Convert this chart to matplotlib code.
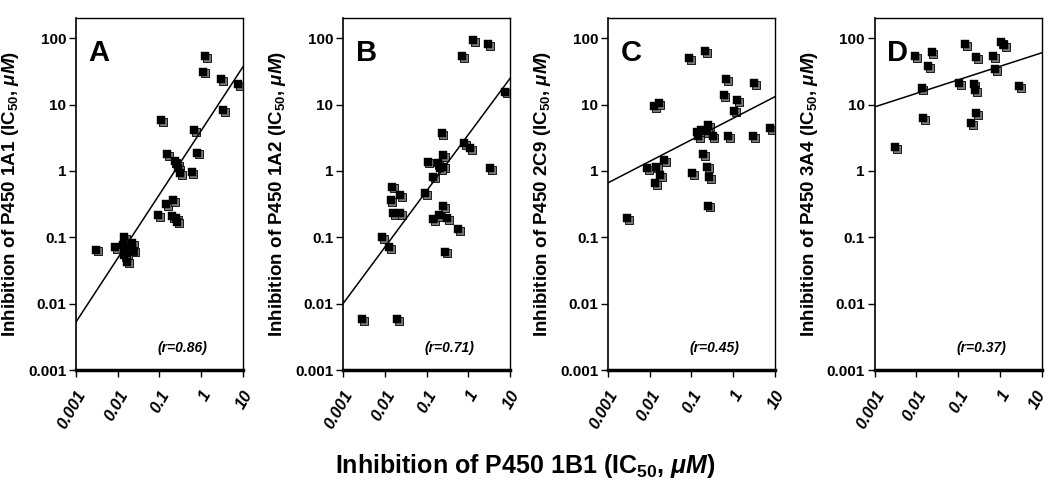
import numpy as np
import matplotlib
matplotlib.use("Agg")
import matplotlib.pyplot as plt
import matplotlib.transforms as mtransforms

plt.rcParams['font.family'] = ['Liberation Sans', 'DejaVu Sans']
plt.rcParams['mathtext.fontset'] = 'custom'
plt.rcParams['mathtext.rm'] = 'Liberation Sans:bold'
plt.rcParams['mathtext.it'] = 'Liberation Sans:bold:italic'
plt.rcParams['mathtext.bf'] = 'Liberation Sans:bold'

# IC50 values (uM), x = P450 1B1
a_x = [0.003, 0.0087, 0.0139, 0.013, 0.0152, 0.0221, 0.0229, 0.0161, 0.0167, 0.0139, 0.0209,
       0.092, 0.144, 0.216, 0.197, 0.245, 0.27, 0.107, 0.15, 0.23, 0.26, 0.28, 0.313, 0.587,
       0.68, 0.79, 1.12, 1.26, 3.0, 3.29, 7.57]
a_y = [0.065, 0.072, 0.1, 0.077, 0.068, 0.081, 0.063, 0.057, 0.043, 0.054, 0.066,
       0.217, 0.318, 0.366, 0.21, 0.193, 0.172, 5.87, 1.8, 1.42, 1.26, 1.1, 0.92, 0.955,
       4.15, 1.89, 31.4, 53, 24.4, 8.3, 20.3]

b_x = [0.0029, 0.0198, 0.0085, 0.0129, 0.0149, 0.0234, 0.0138, 0.0155, 0.0234, 0.091,
       0.106, 0.145, 0.185, 0.231, 0.254, 0.254, 0.21, 0.145, 0.2, 0.254, 0.306, 0.279,
       0.566, 0.778, 1.13, 0.708, 1.29, 2.98, 3.27, 7.56]
b_y = [0.0058, 0.0058, 0.1, 0.072, 0.58, 0.435, 0.366, 0.23, 0.23, 0.46,
       1.38, 0.82, 1.3, 3.7, 1.74, 1.16, 1.1, 0.187, 0.217, 0.297, 0.193, 0.061,
       0.132, 2.61, 2.2, 53, 94, 82, 1.1, 15.7]

c_x = [0.00294, 0.0085, 0.0128, 0.0163, 0.0143, 0.0179, 0.0137, 0.0224, 0.087, 0.212,
       0.105, 0.138, 0.143, 0.17, 0.256, 0.32, 0.194, 0.242, 0.264, 0.25, 0.23,
       0.59, 0.67, 0.77, 1.07, 1.24, 2.98, 3.16, 7.56]
c_y = [0.193, 1.1, 9.55, 10.5, 1.16, 0.87, 0.65, 1.47, 50, 63,
       0.92, 3.92, 3.3, 4.1, 4.94, 3.37, 1.8, 1.16, 0.8, 0.3, 4.0,
       13.7, 24.4, 3.37, 8.1, 11.8, 3.37, 21, 4.45]

d_x = [0.00315, 0.0092, 0.0133, 0.0146, 0.0193, 0.0232, 0.106, 0.147, 0.234, 0.25,
       0.202, 0.267, 0.267, 0.684, 0.78, 1.09, 1.24, 2.95]
d_y = [2.27, 53, 17.6, 6.2, 37.4, 61.5, 21, 82, 20.5, 16.3,
       5.23, 7.4, 51.7, 53, 34.1, 86, 79, 18.7]

# regression line ends (y at x=0.001 and x=10)
fit_y = [(0.0053, 37), (0.01, 24.7), (0.66, 13.1), (9.2, 60)]
fit_x = (0.001, 10)

letters = ['A', 'B', 'C', 'D']
enzymes = ['1A1', '1A2', '2C9', '3A4']
r_text = ['(r=0.86)', '(r=0.71)', '(r=0.45)', '(r=0.37)']
xs = [a_x, b_x, c_x, d_x]
ys = [a_y, b_y, c_y, d_y]

xticks = [0.001, 0.01, 0.1, 1, 10]
xticklabels = ['0.001', '0.01', '0.1', '1', '10']
yticks = [0.001, 0.01, 0.1, 1, 10, 100]
yticklabels = ['0.001', '0.01', '0.1', '1', '10', '100']

fig = plt.figure(figsize=(10.5, 4.84), dpi=100)
lefts = [0.0724, 0.3267, 0.579, 0.833]

for i in range(4):
    ax = fig.add_axes([lefts[i], 0.2355, 0.159, 0.727])
    ax.set_xscale('log')
    ax.set_yscale('log')
    ax.set_xlim(0.001, 10)
    ax.set_ylim(0.001, 200)

    # grey drop shadow behind each black square
    shadow = mtransforms.offset_copy(ax.transData, fig=fig, x=1.3, y=-1.3, units='points')
    ax.scatter(xs[i], ys[i], s=40, marker='s', color='#7a7a7a', edgecolors='black',
               linewidths=0.6, transform=shadow, zorder=2)
    ax.scatter(xs[i], ys[i], s=40, marker='s', color='black', edgecolors='black',
               linewidths=0.3, zorder=3)
    ax.plot(fit_x, fit_y[i], color='black', lw=1.1, zorder=4)

    ax.set_xticks(xticks)
    ax.set_xticklabels(xticklabels, rotation=60, ha='right', va='top',
                       rotation_mode='anchor', fontsize=12, fontweight='bold',
                       fontstyle='italic')
    ax.set_yticks(yticks)
    ax.set_yticklabels(yticklabels, fontsize=11, fontweight='bold')
    ax.minorticks_off()
    ax.tick_params(axis='both', direction='out', length=5, width=1, pad=2)
    ax.tick_params(axis='x', pad=8)
    for side in ['top', 'right']:
        ax.spines[side].set_linewidth(1)
    ax.spines['left'].set_linewidth(1.2)
    ax.spines['bottom'].set_linewidth(2.5)

    if i == 3:
        # keep the last label inside the figure edge
        lab = ax.get_xticklabels()[-1]
        lab.set_transform(lab.get_transform() +
                          mtransforms.ScaledTranslation(-4 / 72, 0, fig.dpi_scale_trans))

    ax.set_ylabel('Inhibition of P450 ' + enzymes[i] + r' (IC$_{50}$, $\mu M$)',
                  fontsize=13.5, fontweight='bold', labelpad=5)
    ax.text(0.075, 0.94, letters[i], transform=ax.transAxes, fontsize=21,
            fontweight='bold', va='top', ha='left')
    ax.text(0.64, 0.0625, r_text[i], transform=ax.transAxes, fontsize=10,
            fontweight='bold', fontstyle='italic', ha='center', va='center')

fig.text(0.5, 0.037, r'Inhibition of P450 1B1 (IC$_{50}$, $\mu M$)', fontsize=18,
         fontweight='bold', ha='center', va='center')

fig.savefig('out.png', dpi=100)
